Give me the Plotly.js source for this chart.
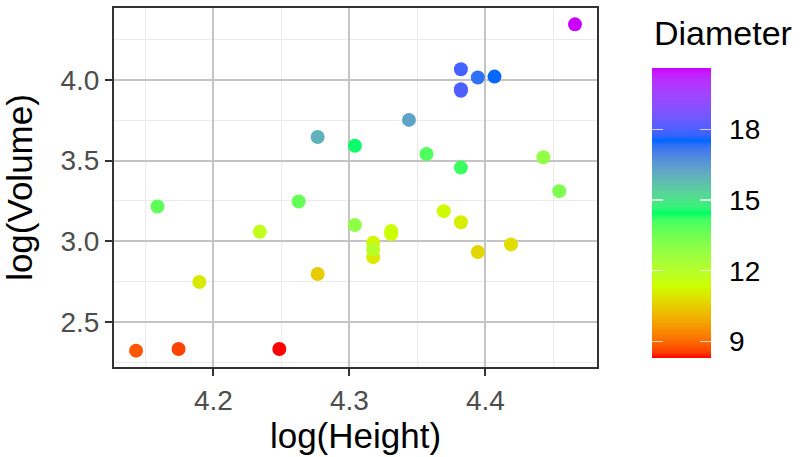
<!DOCTYPE html>
<html>
<head>
<meta charset="utf-8">
<script src="https://cdn.plot.ly/plotly-3.0.1.min.js"></script>
<style>html,body{margin:0;padding:0;background:#fff;}#chart{width:807px;height:457px;}</style>
</head>
<body>
<div id="chart"></div>
<script>
// trees dataset
const girth  = [8.3, 8.6, 8.8, 10.5, 10.7, 10.8, 11.0, 11.0, 11.1, 11.2, 11.3, 11.4, 11.4, 11.7, 12.0, 12.9, 12.9, 13.3, 13.7, 13.8, 14.0, 14.2, 14.5, 16.0, 16.3, 17.3, 17.5, 17.9, 18.0, 18.0, 20.6];
const height = [70, 65, 63, 72, 81, 83, 66, 75, 80, 75, 79, 76, 76, 69, 75, 74, 85, 86, 71, 64, 78, 80, 74, 72, 77, 81, 82, 80, 80, 80, 87];
const volume = [10.3, 10.3, 10.2, 16.4, 18.8, 19.7, 15.6, 18.2, 22.6, 19.9, 24.2, 21.0, 21.4, 21.3, 19.1, 22.2, 33.8, 27.4, 25.7, 24.9, 34.5, 31.7, 36.3, 38.3, 42.6, 55.4, 55.7, 58.3, 51.5, 51.0, 77.0];
const colorTicks = [9, 12, 15, 18];
const paletteColors = ["#FF0000", "#CCFF00", "#00FF66", "#0066FF", "#CC00FF"];

// Lab interpolation (like ggplot's gradientn)
function hex2rgb(h){return [1,3,5].map(i=>parseInt(h.substr(i,2),16)/255);}
function lin(c){return c<=0.04045?c/12.92:Math.pow((c+0.055)/1.055,2.4);}
function delin(c){return c<=0.0031308?12.92*c:1.055*Math.pow(c,1/2.4)-0.055;}
const Xn=0.95047,Yn=1,Zn=1.08883;
function f(t){return t>Math.pow(6/29,3)?Math.cbrt(t):t/(3*Math.pow(6/29,2))+4/29;}
function finv(t){return t>6/29?t*t*t:3*Math.pow(6/29,2)*(t-4/29);}
function rgb2lab(rgb){const [r,g,b]=rgb.map(lin);
  const X=0.4124*r+0.3576*g+0.1805*b, Y=0.2126*r+0.7152*g+0.0722*b, Z=0.0193*r+0.1192*g+0.9505*b;
  const fx=f(X/Xn),fy=f(Y/Yn),fz=f(Z/Zn);return [116*fy-16,500*(fx-fy),200*(fy-fz)];}
function lab2rgb(lab){const fy=(lab[0]+16)/116,fx=fy+lab[1]/500,fz=fy-lab[2]/200;
  const X=Xn*finv(fx),Y=Yn*finv(fy),Z=Zn*finv(fz);
  let r=3.2406*X-1.5372*Y-0.4986*Z,g=-0.9689*X+1.8758*Y+0.0415*Z,b=0.0557*X-0.2040*Y+1.0570*Z;
  return [r,g,b].map(c=>Math.round(Math.max(0,Math.min(1,delin(c)))*255));}
const labs=paletteColors.map(h=>rgb2lab(hex2rgb(h)));
const scale=[];const N=60;
for(let i=0;i<=N;i++){const t=i/N;const seg=Math.min(Math.floor(t*(labs.length-1)),labs.length-2);
  const u=t*(labs.length-1)-seg;const a=labs[seg],b=labs[seg+1];
  const c=lab2rgb([0,1,2].map(k=>a[k]+(b[k]-a[k])*u));scale.push([t,`rgb(${c[0]},${c[1]},${c[2]})`]);}

const logH=height.map(Math.log), logV=volume.map(Math.log);
const cmin=Math.min(...girth), cmax=Math.max(...girth);

// geometry
const W=807,H=457,mL=114,mR=210,mT=8,mB=90;
const pw=W-mL-mR, ph=H-mT-mB;
const barLeft=652, barW=59, barTop=68, barLen=290, tickLen=11;
const px2x=p=>(p-mL)/pw, px2y=p=>(H-mB-p)/ph;
const cbY=px2y(barTop+barLen/2);

function cbar(left,thick,extra){
  return Object.assign({tickvals:colorTicks,thickness:thick,thicknessmode:'pixels',len:barLen,lenmode:'pixels',
    x:px2x(left),xanchor:'left',xpad:0,y:cbY,yanchor:'middle',ypad:0,outlinewidth:0},extra);
}
const whiteTicks={ticks:'inside',ticklen:tickLen,tickwidth:1.2,tickcolor:'rgba(255,255,255,0.75)',showticklabels:false};

const main={x:logH,y:logV,mode:'markers',type:'scatter',
  marker:{size:14,color:girth,colorscale:scale,cmin:cmin,cmax:cmax,line:{width:0},
    colorbar:cbar(barLeft,barW,{ticks:'outside',ticklen:13,tickwidth:1,tickcolor:'rgba(0,0,0,0)',
      tickfont:{size:28,color:'#000'}})},
  hoverinfo:'x+y'};
// overlay colorbars carrying the white tick marks on both sides of the bar
const tickRight={x:logH,y:logV,mode:'markers',type:'scatter',hoverinfo:'skip',
  marker:{size:14,opacity:0,color:girth,colorscale:scale,cmin:cmin,cmax:cmax,
    colorbar:cbar(barLeft,barW,whiteTicks)}};
const tickLeft={x:logH,y:logV,mode:'markers',type:'scatter',hoverinfo:'skip',
  marker:{size:14,opacity:0,color:girth,colorscale:scale,cmin:cmin,cmax:cmax,
    colorbar:cbar(barLeft,tickLen,whiteTicks)}};

const axisCommon={showline:true,mirror:true,linecolor:'#333',linewidth:2,ticks:'outside',ticklen:7,tickwidth:2,tickcolor:'#333',
  gridcolor:'#c4c4c4',gridwidth:2,zeroline:false,tickfont:{size:28,color:'#4d4d4d'}};

const layout={width:W,height:H,margin:{l:mL,r:mR,t:mT,b:mB},paper_bgcolor:'#fff',plot_bgcolor:'#fff',
  font:{family:'Liberation Sans, Arial, sans-serif'},showlegend:false,
  annotations:[{text:'Diameter',xref:'paper',yref:'paper',x:px2x(652),y:px2y(33),xanchor:'left',yanchor:'middle',
    showarrow:false,font:{size:34,color:'#000'}}],
  xaxis:Object.assign({},axisCommon,{range:[4.1269,4.4821],dtick:0.1,tick0:4.2,tickformat:'.1f',
    minor:{showgrid:true,gridcolor:'#ebebeb',gridwidth:1,dtick:0.05,tick0:4.15},
    title:{text:'log(Height)',font:{size:35,color:'#000'},standoff:6}}),
  yaxis:Object.assign({},axisCommon,{range:[2.221,4.445],dtick:0.5,tick0:2.5,tickformat:'.1f',
    minor:{showgrid:true,gridcolor:'#ebebeb',gridwidth:1,dtick:0.25,tick0:2.25},
    title:{text:'log(Volume)',font:{size:35,color:'#000'},standoff:18}})};

Plotly.newPlot('chart',[main,tickRight,tickLeft],layout,{displayModeBar:false,staticPlot:true});
</script>
</body>
</html>
